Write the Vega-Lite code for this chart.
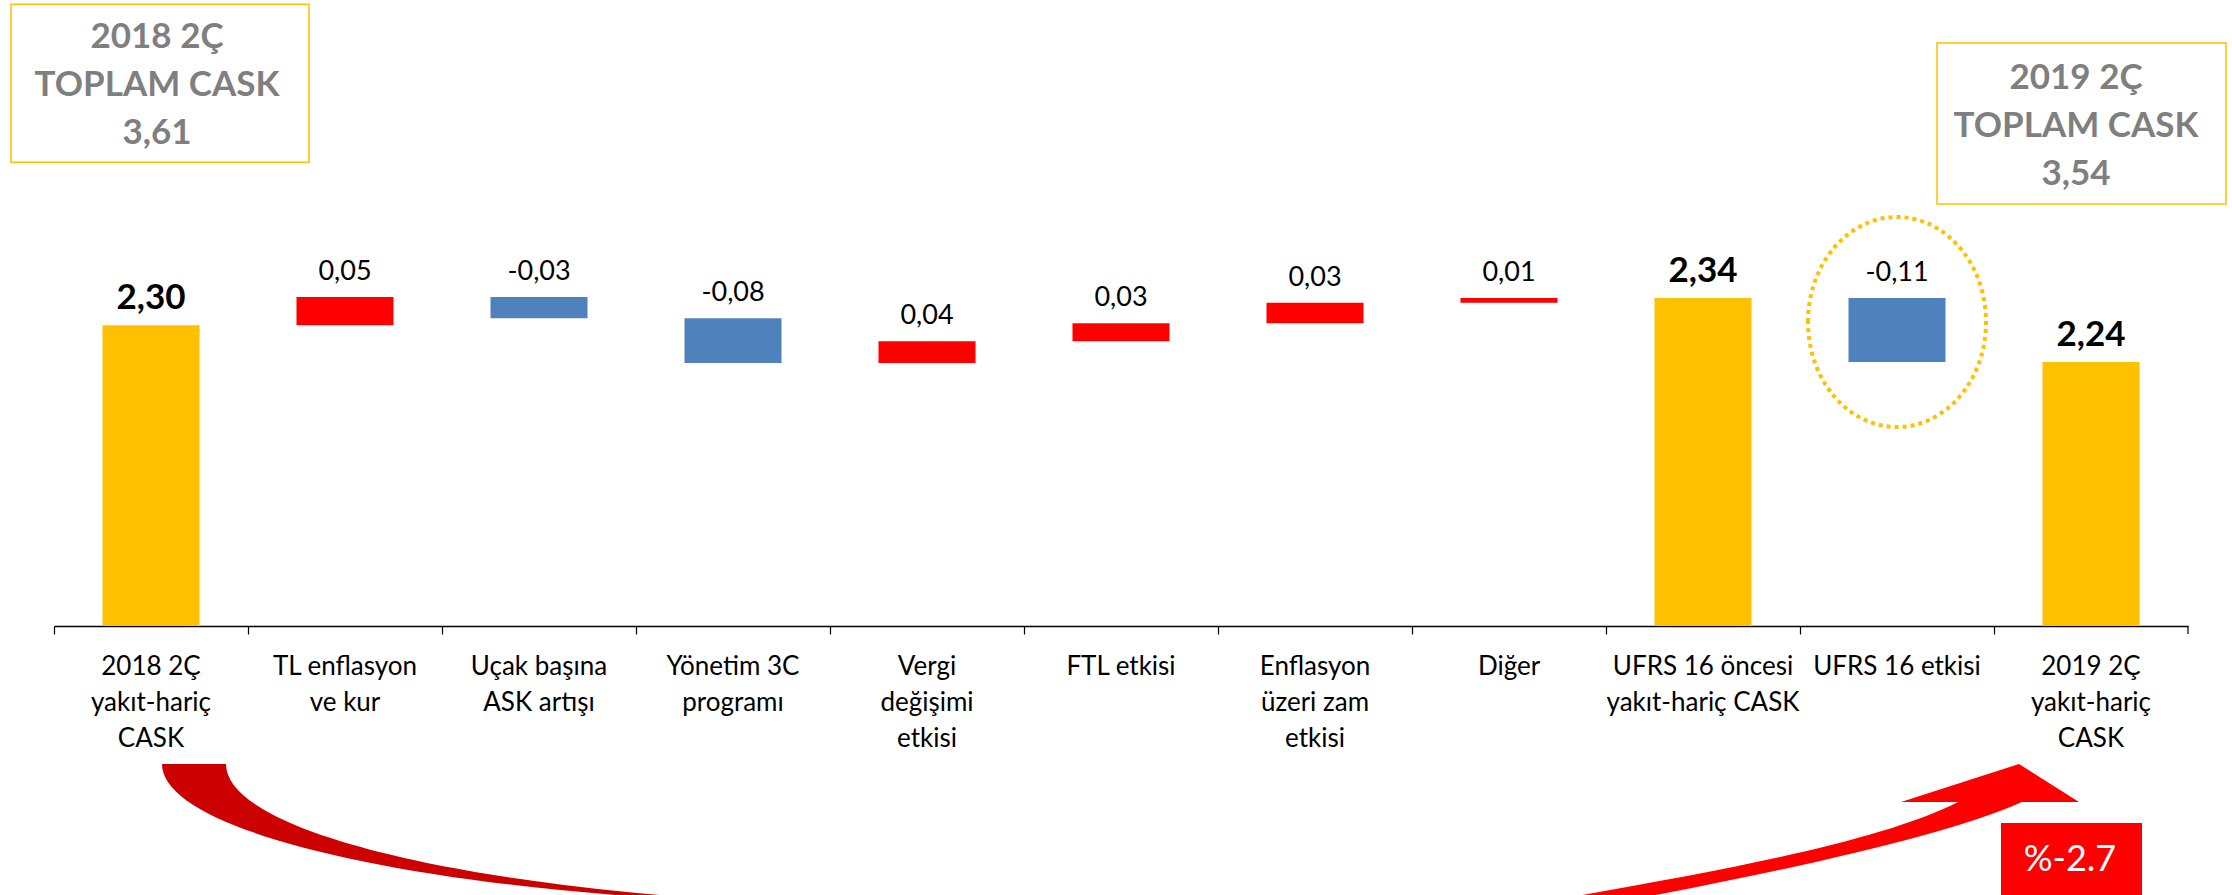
{
  "$schema": "https://vega.github.io/schema/vega-lite/v6.json",
  "autosize": {"type": "none"},
  "width": 2134,
  "height": 616,
  "padding": {"left": 54, "top": 10, "right": 44, "bottom": 269},
  "background": "white",
  "config": {"view": {"stroke": null}},
  "datasets": {
    "bars": [
      {"cat": "2018 2Ç|yakıt-hariç|CASK", "start": 0, "end": 2.30, "type": "total", "lbl": "2,30"},
      {"cat": "TL enflasyon|ve kur", "start": 2.30, "end": 2.344, "type": "up", "lbl": "0,05"},
      {"cat": "Uçak başına|ASK artışı", "start": 2.344, "end": 2.311, "type": "down", "lbl": "-0,03"},
      {"cat": "Yönetim 3C|programı", "start": 2.311, "end": 2.241, "type": "down", "lbl": "-0,08"},
      {"cat": "Vergi|değişimi|etkisi", "start": 2.241, "end": 2.275, "type": "up", "lbl": "0,04"},
      {"cat": "FTL etkisi", "start": 2.275, "end": 2.303, "type": "up", "lbl": "0,03"},
      {"cat": "Enflasyon|üzeri zam|etkisi", "start": 2.303, "end": 2.335, "type": "up", "lbl": "0,03"},
      {"cat": "Diğer", "start": 2.335, "end": 2.3425, "type": "up", "lbl": "0,01"},
      {"cat": "UFRS 16 öncesi|yakıt-hariç CASK", "start": 0, "end": 2.3425, "type": "total", "lbl": "2,34"},
      {"cat": "UFRS 16 etkisi", "start": 2.3425, "end": 2.2425, "type": "down", "lbl": "-0,11"},
      {"cat": "2019 2Ç|yakıt-hariç|CASK", "start": 0, "end": 2.2425, "type": "total", "lbl": "2,24"}
    ]
  },
  "layer": [
    {
      "data": {"name": "bars"},
      "mark": {"type": "bar", "clip": true},
      "encoding": {
        "x": {
          "field": "cat", "type": "nominal",
          "scale": {
            "domain": ["2018 2Ç|yakıt-hariç|CASK", "TL enflasyon|ve kur", "Uçak başına|ASK artışı", "Yönetim 3C|programı", "Vergi|değişimi|etkisi", "FTL etkisi", "Enflasyon|üzeri zam|etkisi", "Diğer", "UFRS 16 öncesi|yakıt-hariç CASK", "UFRS 16 etkisi", "2019 2Ç|yakıt-hariç|CASK"],
            "paddingInner": 0.5, "paddingOuter": 0.25
          },
          "axis": {
            "title": null, "labelExpr": "split(datum.value, '|')", "labelAngle": 0,
            "labelFont": "Lato", "labelFontSize": 26, "labelColor": "#000000",
            "labelLineHeight": 36, "labelPadding": 19, "labelBaseline": "top",
            "labelLimit": 400, "labelOverlap": false,
            "domainColor": "#000000", "domainWidth": 1.5,
            "tickColor": "#000000", "tickWidth": 1.2, "tickSize": 8,
            "bandPosition": -0.5, "grid": false
          }
        },
        "y": {"field": "end", "type": "quantitative", "scale": {"domain": [1.83, 2.7925], "zero": false, "nice": false}, "axis": null},
        "y2": {"field": "start"},
        "color": {"field": "type", "type": "nominal", "scale": {"domain": ["total", "up", "down"], "range": ["#FFC000", "#FF0000", "#4F81BD"]}, "legend": null}
      }
    },
    {
      "data": {"values": [{}]},
      "mark": {"type": "rule", "color": "#000000", "strokeWidth": 1.2},
      "encoding": {
        "x": {"datum": "2019 2Ç|yakıt-hariç|CASK", "type": "nominal", "bandPosition": 1.5},
        "y": {"datum": 1.83, "type": "quantitative"},
        "y2": {"datum": 1.8175}
      }
    },
    {
      "data": {"name": "bars"},
      "transform": [{"filter": "datum.type === 'total'"}],
      "mark": {"type": "text", "font": "Lato", "fontWeight": "bold", "fontSize": 35, "baseline": "alphabetic", "dy": -16, "color": "#000000"},
      "encoding": {
        "x": {"field": "cat", "type": "nominal"},
        "y": {"field": "end", "type": "quantitative"},
        "text": {"field": "lbl"}
      }
    },
    {
      "data": {"name": "bars"},
      "transform": [{"filter": "datum.type === 'up'"}],
      "mark": {"type": "text", "font": "Lato", "fontSize": 27, "baseline": "alphabetic", "dy": -17, "color": "#000000"},
      "encoding": {
        "x": {"field": "cat", "type": "nominal"},
        "y": {"field": "end", "type": "quantitative"},
        "text": {"field": "lbl"}
      }
    },
    {
      "data": {"name": "bars"},
      "transform": [{"filter": "datum.type === 'down'"}],
      "mark": {"type": "text", "font": "Lato", "fontSize": 27, "baseline": "alphabetic", "dy": -17, "color": "#000000"},
      "encoding": {
        "x": {"field": "cat", "type": "nominal"},
        "y": {"field": "start", "type": "quantitative"},
        "text": {"field": "lbl"}
      }
    },
    {
      "data": {"values": [{}]},
      "mark": {"type": "point", "shape": "M-140,-79H158V79H-140Z", "size": 4, "filled": false, "stroke": "#FFC000", "strokeWidth": 1.5, "opacity": 1},
      "encoding": {
        "x": {"datum": "2018 2Ç|yakıt-hariç|CASK", "type": "nominal"},
        "y": {"datum": 2.678, "type": "quantitative"}
      }
    },
    {
      "data": {"values": [{"t": "2018 2Ç\nTOPLAM CASK\n3,61"}]},
      "mark": {"type": "text", "font": "Lato", "fontWeight": "bold", "fontSize": 35, "lineHeight": 48, "lineBreak": "\n", "align": "center", "baseline": "middle", "dx": 6, "dy": -46, "color": "#7F7F7F"},
      "encoding": {
        "x": {"datum": "2018 2Ç|yakıt-hariç|CASK", "type": "nominal"},
        "y": {"datum": 2.678, "type": "quantitative"},
        "text": {"field": "t"}
      }
    },
    {
      "data": {"values": [{}]},
      "mark": {"type": "point", "shape": "M-154,-81H135V80H-154Z", "size": 4, "filled": false, "stroke": "#FFC000", "strokeWidth": 1.5, "opacity": 1},
      "encoding": {
        "x": {"datum": "2019 2Ç|yakıt-hariç|CASK", "type": "nominal"},
        "y": {"datum": 2.6144, "type": "quantitative"}
      }
    },
    {
      "data": {"values": [{"t": "2019 2Ç\nTOPLAM CASK\n3,54"}]},
      "mark": {"type": "text", "font": "Lato", "fontWeight": "bold", "fontSize": 35, "lineHeight": 48, "lineBreak": "\n", "align": "center", "baseline": "middle", "dx": -15, "dy": -46, "color": "#7F7F7F"},
      "encoding": {
        "x": {"datum": "2019 2Ç|yakıt-hariç|CASK", "type": "nominal"},
        "y": {"datum": 2.6144, "type": "quantitative"},
        "text": {"field": "t"}
      }
    },
    {
      "data": {"values": [{}]},
      "mark": {"type": "point", "shape": "M-89,0A89,105 0 1,1 89,0A89,105 0 1,1 -89,0Z", "size": 4, "filled": false, "stroke": "#FFC000", "strokeWidth": 4, "strokeDash": [4, 4], "opacity": 1},
      "encoding": {
        "x": {"datum": "UFRS 16 etkisi", "type": "nominal"},
        "y": {"datum": 2.305, "type": "quantitative"}
      }
    },
    {
      "data": {"values": [{}]},
      "mark": {"type": "point", "shape": "M11,138A739,142 0 0,0 750,280L800,300L800,281A725,143 0 0,1 75,138Z", "size": 4, "filled": true, "fill": "#CC0000", "strokeWidth": 0, "opacity": 1},
      "encoding": {
        "x": {"datum": "2018 2Ç|yakıt-hariç|CASK", "type": "nominal"},
        "y": {"datum": 1.83, "type": "quantitative"}
      }
    },
    {
      "data": {"values": [{}]},
      "mark": {"type": "point", "shape": "M-72,138L-12,176L-69,176C-150,212 -320,248 -520,285L-600,300L-600,285C-400,250 -220,220 -133,176L-190,176Z", "size": 4, "filled": true, "fill": "#FF0000", "strokeWidth": 0, "opacity": 1},
      "encoding": {
        "x": {"datum": "2019 2Ç|yakıt-hariç|CASK", "type": "nominal"},
        "y": {"datum": 1.83, "type": "quantitative"}
      }
    },
    {
      "data": {"values": [{}]},
      "mark": {"type": "point", "shape": "M-90,197H51V280H-90Z", "size": 4, "filled": true, "fill": "#FF0000", "strokeWidth": 0, "opacity": 1},
      "encoding": {
        "x": {"datum": "2019 2Ç|yakıt-hariç|CASK", "type": "nominal"},
        "y": {"datum": 1.83, "type": "quantitative"}
      }
    },
    {
      "data": {"values": [{"t": "%-2.7"}]},
      "mark": {"type": "text", "font": "Lato", "fontSize": 36, "align": "center", "baseline": "middle", "dx": -21, "dy": 234, "color": "#FFFFFF"},
      "encoding": {
        "x": {"datum": "2019 2Ç|yakıt-hariç|CASK", "type": "nominal"},
        "y": {"datum": 1.83, "type": "quantitative"},
        "text": {"field": "t"}
      }
    }
  ]
}
